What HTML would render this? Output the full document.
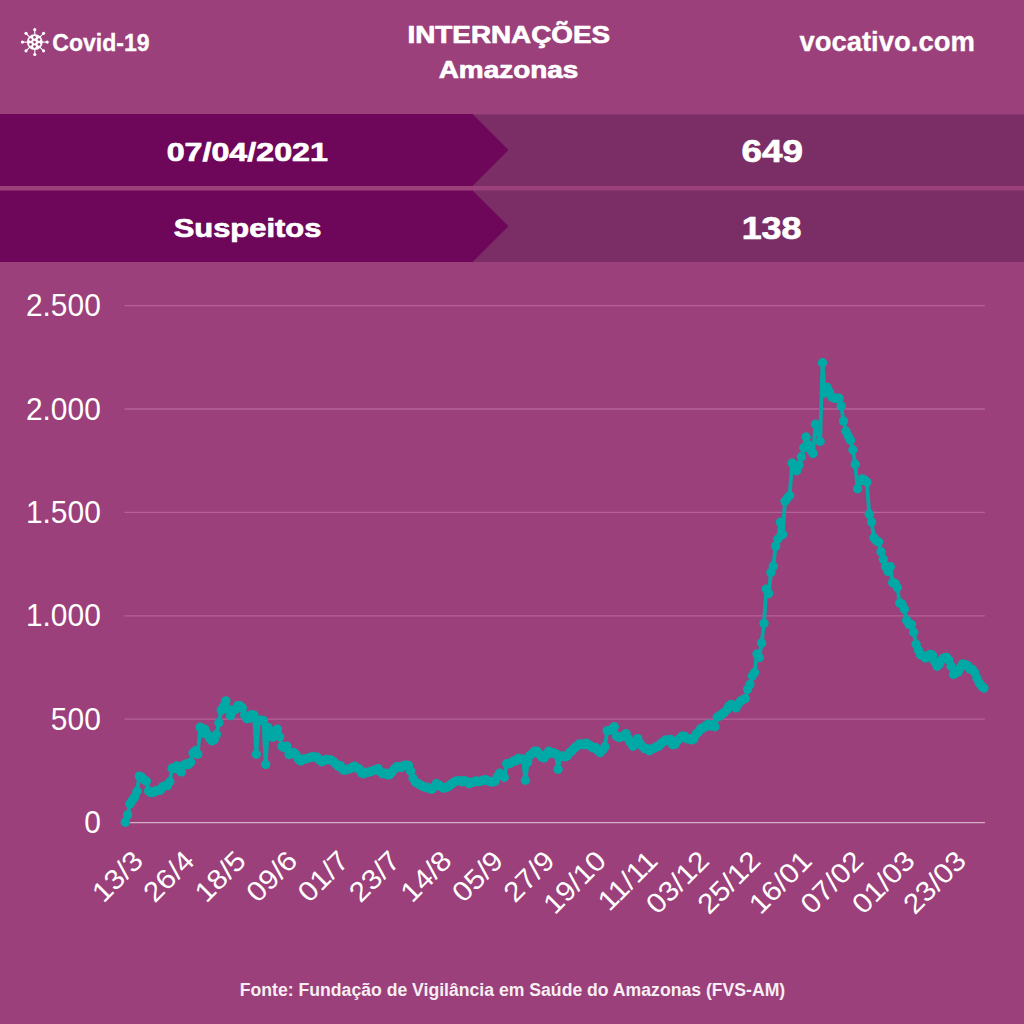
<!DOCTYPE html>
<html><head><meta charset="utf-8"><style>
html,body{margin:0;padding:0;background:#9b407a;}
svg{display:block;}
text{font-family:"Liberation Sans",sans-serif;fill:#fff;}
.yl{font-size:31.5px;}
.xl{font-size:27.8px;}
.b{font-weight:bold;}
.h{stroke:#fff;stroke-width:0.7px;stroke-linejoin:round;}
</style></head><body>
<svg width="1024" height="1024" viewBox="0 0 1024 1024">
<rect width="1024" height="1024" fill="#9b407a"/>
<circle cx="34.8" cy="42.1" r="7.9" fill="#fff"/><line x1="34.8" y1="42.1" x2="34.80" y2="29.70" stroke="#fff" stroke-width="1.1"/><circle cx="34.80" cy="29.70" r="1.6" fill="#fff"/><line x1="34.8" y1="42.1" x2="43.57" y2="33.33" stroke="#fff" stroke-width="1.1"/><circle cx="43.57" cy="33.33" r="1.6" fill="#fff"/><line x1="34.8" y1="42.1" x2="47.20" y2="42.10" stroke="#fff" stroke-width="1.1"/><circle cx="47.20" cy="42.10" r="1.6" fill="#fff"/><line x1="34.8" y1="42.1" x2="43.57" y2="50.87" stroke="#fff" stroke-width="1.1"/><circle cx="43.57" cy="50.87" r="1.6" fill="#fff"/><line x1="34.8" y1="42.1" x2="34.80" y2="54.50" stroke="#fff" stroke-width="1.1"/><circle cx="34.80" cy="54.50" r="1.6" fill="#fff"/><line x1="34.8" y1="42.1" x2="26.03" y2="50.87" stroke="#fff" stroke-width="1.1"/><circle cx="26.03" cy="50.87" r="1.6" fill="#fff"/><line x1="34.8" y1="42.1" x2="22.40" y2="42.10" stroke="#fff" stroke-width="1.1"/><circle cx="22.40" cy="42.10" r="1.6" fill="#fff"/><line x1="34.8" y1="42.1" x2="26.03" y2="33.33" stroke="#fff" stroke-width="1.1"/><circle cx="26.03" cy="33.33" r="1.6" fill="#fff"/><circle cx="34.50" cy="37.30" r="1.35" fill="#9b407a"/><circle cx="30.50" cy="39.60" r="1.35" fill="#9b407a"/><circle cx="39.00" cy="39.60" r="1.35" fill="#9b407a"/><circle cx="34.50" cy="42.10" r="1.35" fill="#9b407a"/><circle cx="30.50" cy="44.40" r="1.35" fill="#9b407a"/><circle cx="39.00" cy="44.40" r="1.35" fill="#9b407a"/><circle cx="34.50" cy="46.60" r="1.35" fill="#9b407a"/>
<text x="52.3" y="50.5" class="b" font-size="23.3" stroke="#fff" stroke-width="0.3" textLength="97.4" lengthAdjust="spacingAndGlyphs">Covid-19</text>
<text x="407.5" y="43.4" class="b h" font-size="23.6" textLength="202.6" lengthAdjust="spacingAndGlyphs">INTERNAÇÕES</text>
<text x="438.7" y="78.2" class="b h" font-size="24" textLength="139.6" lengthAdjust="spacingAndGlyphs">Amazonas</text>
<text x="799.4" y="51.2" class="b" font-size="28.5" stroke="#fff" stroke-width="0.3" textLength="175.5" lengthAdjust="spacingAndGlyphs">vocativo.com</text>
<rect x="0" y="114" width="473" height="72" fill="#6e075a"/>
<rect x="473" y="114.5" width="551" height="71.5" fill="#7b2e65"/>
<polygon points="472.5,114 508.5,150 472.5,186" fill="#6e075a"/>
<rect x="0" y="190.5" width="473" height="71.5" fill="#6e075a"/>
<rect x="473" y="190.5" width="551" height="71.5" fill="#7b2e65"/>
<polygon points="472.5,190.5 508.5,226.3 472.5,262" fill="#6e075a"/>
<text x="166.7" y="161.3" class="b h" font-size="26.5" textLength="161.2" lengthAdjust="spacingAndGlyphs">07/04/2021</text>
<text x="173.7" y="236.9" class="b h" font-size="26.5" textLength="147.7" lengthAdjust="spacingAndGlyphs">Suspeitos</text>
<text x="741.5" y="162.2" class="b h" font-size="31.5" textLength="61.5" lengthAdjust="spacingAndGlyphs">649</text>
<text x="741.7" y="239.3" class="b h" font-size="31.5" textLength="59.8" lengthAdjust="spacingAndGlyphs">138</text>
<line x1="124.5" y1="719.2" x2="984.9" y2="719.2" stroke="#f0aadc" stroke-opacity="0.32" stroke-width="1.3"/><line x1="124.5" y1="615.8" x2="984.9" y2="615.8" stroke="#f0aadc" stroke-opacity="0.32" stroke-width="1.3"/><line x1="124.5" y1="512.4" x2="984.9" y2="512.4" stroke="#f0aadc" stroke-opacity="0.32" stroke-width="1.3"/><line x1="124.5" y1="409.0" x2="984.9" y2="409.0" stroke="#f0aadc" stroke-opacity="0.32" stroke-width="1.3"/><line x1="124.5" y1="305.6" x2="984.9" y2="305.6" stroke="#f0aadc" stroke-opacity="0.32" stroke-width="1.3"/><line x1="124.5" y1="822.6" x2="984.9" y2="822.6" stroke="#ffffff" stroke-opacity="0.58" stroke-width="1.4"/>
<text transform="translate(100.8,833.2) scale(0.95,1)" text-anchor="end" class="yl">0</text><text transform="translate(100.8,729.8) scale(0.95,1)" text-anchor="end" class="yl">500</text><text transform="translate(100.8,626.4) scale(0.95,1)" text-anchor="end" class="yl">1.000</text><text transform="translate(100.8,523.0) scale(0.95,1)" text-anchor="end" class="yl">1.500</text><text transform="translate(100.8,419.6) scale(0.95,1)" text-anchor="end" class="yl">2.000</text><text transform="translate(100.8,316.2) scale(0.95,1)" text-anchor="end" class="yl">2.500</text>
<text transform="translate(144.7,862.4) rotate(-45) scale(1.08,1)" text-anchor="end" class="xl">13/3</text><text transform="translate(196.1,862.4) rotate(-45) scale(1.08,1)" text-anchor="end" class="xl">26/4</text><text transform="translate(247.6,862.4) rotate(-45) scale(1.08,1)" text-anchor="end" class="xl">18/5</text><text transform="translate(299.1,862.4) rotate(-45) scale(1.08,1)" text-anchor="end" class="xl">09/6</text><text transform="translate(350.5,862.4) rotate(-45) scale(1.08,1)" text-anchor="end" class="xl">01/7</text><text transform="translate(401.9,862.4) rotate(-45) scale(1.08,1)" text-anchor="end" class="xl">23/7</text><text transform="translate(453.4,862.4) rotate(-45) scale(1.08,1)" text-anchor="end" class="xl">14/8</text><text transform="translate(504.9,862.4) rotate(-45) scale(1.08,1)" text-anchor="end" class="xl">05/9</text><text transform="translate(556.3,862.4) rotate(-45) scale(1.08,1)" text-anchor="end" class="xl">27/9</text><text transform="translate(607.8,862.4) rotate(-45) scale(1.08,1)" text-anchor="end" class="xl">19/10</text><text transform="translate(659.2,862.4) rotate(-45) scale(1.08,1)" text-anchor="end" class="xl">11/11</text><text transform="translate(710.7,862.4) rotate(-45) scale(1.08,1)" text-anchor="end" class="xl">03/12</text><text transform="translate(762.1,862.4) rotate(-45) scale(1.08,1)" text-anchor="end" class="xl">25/12</text><text transform="translate(813.5,862.4) rotate(-45) scale(1.08,1)" text-anchor="end" class="xl">16/01</text><text transform="translate(865.0,862.4) rotate(-45) scale(1.08,1)" text-anchor="end" class="xl">07/02</text><text transform="translate(916.5,862.4) rotate(-45) scale(1.08,1)" text-anchor="end" class="xl">01/03</text><text transform="translate(967.9,862.4) rotate(-45) scale(1.08,1)" text-anchor="end" class="xl">23/03</text>
<g fill="#00a9a6"><polyline points="125.3,822.3 127.6,814.9 130.0,803.9 132.3,800.3 134.7,797.0 137.0,791.3 139.3,776.1 141.7,777.4 144.0,779.8 146.4,781.2 148.7,790.9 151.0,792.6 153.4,792.2 155.7,790.7 158.1,790.3 160.4,790.2 162.7,786.6 165.1,785.8 167.4,785.7 169.8,781.8 172.1,768.3 174.4,768.4 176.8,765.9 179.1,769.8 181.4,772.0 183.8,765.3 186.1,763.9 188.5,764.5 190.8,762.3 193.1,752.9 195.5,750.7 197.8,754.2 200.2,727.2 202.5,733.1 204.8,729.2 207.2,734.3 209.5,738.0 211.9,740.8 214.2,739.8 216.5,734.5 218.9,722.7 221.2,710.1 223.6,706.2 225.9,700.9 228.2,709.1 230.6,715.8 232.9,711.0 235.3,709.4 237.6,705.7 239.9,705.6 242.3,707.9 244.6,715.1 247.0,718.7 249.3,718.4 251.6,714.7 254.0,715.1 256.3,754.3 258.7,720.5 261.0,720.1 263.3,720.5 265.7,764.5 268.0,727.4 270.3,731.1 272.7,737.1 275.0,734.2 277.4,729.3 279.7,736.8 282.0,746.5 284.4,747.7 286.7,746.1 289.1,754.6 291.4,752.8 293.7,752.6 296.1,754.9 298.4,759.1 300.8,760.9 303.1,759.2 305.4,759.0 307.8,758.1 310.1,757.6 312.5,756.8 314.8,757.1 317.1,757.3 319.5,759.9 321.8,761.7 324.2,760.4 326.5,759.5 328.8,759.6 331.2,760.2 333.5,761.6 335.9,763.9 338.2,766.2 340.5,765.7 342.9,769.7 345.2,770.1 347.6,769.3 349.9,768.7 352.2,767.2 354.6,766.3 356.9,768.1 359.3,769.0 361.6,772.9 363.9,773.8 366.3,772.3 368.6,772.2 370.9,771.5 373.3,770.8 375.6,769.6 378.0,768.6 380.3,771.6 382.6,773.6 385.0,773.1 387.3,774.7 389.7,774.7 392.0,771.9 394.3,769.0 396.7,766.7 399.0,766.7 401.4,767.5 403.7,765.5 406.0,765.1 408.4,765.4 410.7,771.3 413.1,778.4 415.4,782.2 417.7,783.2 420.1,784.9 422.4,786.1 424.8,787.3 427.1,787.2 429.4,788.7 431.8,789.1 434.1,787.3 436.5,783.6 438.8,785.1 441.1,786.8 443.5,788.2 445.8,787.4 448.2,786.8 450.5,784.9 452.8,782.9 455.2,781.4 457.5,780.7 459.8,780.8 462.2,781.8 464.5,780.7 466.9,781.8 469.2,783.8 471.5,782.5 473.9,782.0 476.2,781.0 478.6,781.6 480.9,781.3 483.2,780.1 485.6,779.8 487.9,780.7 490.3,781.8 492.6,782.0 494.9,781.5 497.3,776.7 499.6,773.2 502.0,775.1 504.3,777.2 506.6,763.7 509.0,763.7 511.3,762.7 513.7,760.9 516.0,760.7 518.3,758.5 520.7,759.1 523.0,759.3 525.4,780.2 527.7,762.1 530.0,755.4 532.4,753.2 534.7,751.1 537.1,751.2 539.4,754.3 541.7,757.1 544.1,758.0 546.4,754.6 548.8,751.2 551.1,753.3 553.4,752.8 555.8,753.9 558.1,769.3 560.4,756.2 562.8,755.9 565.1,756.9 567.5,755.7 569.8,752.4 572.1,750.7 574.5,748.0 576.8,746.2 579.2,744.0 581.5,744.2 583.8,744.9 586.2,743.1 588.5,744.8 590.9,746.1 593.2,747.9 595.5,747.5 597.9,750.7 600.2,752.6 602.6,750.1 604.9,746.8 607.2,730.8 609.6,730.4 611.9,729.2 614.3,726.8 616.6,736.3 618.9,737.5 621.3,736.7 623.6,736.1 626.0,733.6 628.3,738.8 630.6,742.8 633.0,746.2 635.3,743.2 637.7,738.6 640.0,743.6 642.3,746.2 644.7,748.6 647.0,748.7 649.4,750.8 651.7,749.0 654.0,748.3 656.4,746.8 658.7,746.2 661.0,743.4 663.4,741.7 665.7,739.9 668.1,740.6 670.4,739.4 672.7,744.7 675.1,744.1 677.4,740.7 679.8,738.5 682.1,736.3 684.4,736.3 686.8,738.8 689.1,738.6 691.5,739.9 693.8,738.9 696.1,734.1 698.5,732.0 700.8,728.5 703.2,728.1 705.5,726.1 707.8,724.3 710.2,726.0 712.5,724.6 714.9,726.7 717.2,717.3 719.5,716.0 721.9,714.0 724.2,712.6 726.6,710.0 728.9,706.0 731.2,704.4 733.6,706.0 735.9,707.9 738.3,704.0 740.6,701.0 742.9,699.7 745.3,698.5 747.6,689.2 749.9,684.5 752.3,676.0 754.6,672.5 757.0,654.0 759.3,657.5 761.6,643.0 764.0,623.4 766.3,589.1 768.7,593.5 771.0,572.4 773.3,566.2 775.7,546.0 778.0,539.0 780.4,522.2 782.7,534.5 785.0,501.1 787.4,498.0 789.7,495.5 792.1,463.0 794.4,467.0 796.7,470.6 799.1,465.0 801.4,456.7 803.8,447.8 806.1,437.0 808.4,445.0 810.8,450.0 813.1,453.5 815.5,424.3 817.8,432.0 820.1,441.4 822.5,362.7 824.8,393.0 827.2,387.5 829.5,392.0 831.8,397.0 834.2,398.3 836.5,398.3 838.9,398.3 841.2,405.9 843.5,421.1 845.9,431.3 848.2,436.0 850.5,440.2 852.9,449.7 855.2,464.3 857.6,488.8 859.9,481.0 862.2,479.0 864.6,480.0 866.9,482.0 869.3,514.2 871.6,522.0 873.9,537.7 876.3,540.7 878.6,541.9 881.0,551.8 883.3,559.2 885.6,566.4 888.0,571.4 890.3,566.8 892.7,582.6 895.0,583.4 897.3,587.5 899.7,603.0 902.0,604.1 904.4,609.1 906.7,620.3 909.0,624.5 911.4,624.5 913.7,632.3 916.1,644.2 918.4,650.0 920.7,655.0 923.1,655.7 925.4,658.0 927.8,657.1 930.1,654.4 932.4,655.2 934.8,661.8 937.1,666.3 939.4,663.9 941.8,659.7 944.1,657.9 946.5,657.4 948.8,660.0 951.1,666.3 953.5,674.4 955.8,671.7 958.2,672.0 960.5,667.5 962.8,663.9 965.2,664.7 967.5,665.6 969.9,668.9 972.2,669.3 974.5,672.3 976.9,678.0 979.2,683.0 981.6,686.0 983.9,688.0" fill="none" stroke="#00a9a6" stroke-width="3.8" stroke-linejoin="round"/><circle cx="125.3" cy="822.3" r="4.7"/><circle cx="127.6" cy="814.9" r="4.7"/><circle cx="130.0" cy="803.9" r="4.7"/><circle cx="132.3" cy="800.3" r="4.7"/><circle cx="134.7" cy="797.0" r="4.7"/><circle cx="137.0" cy="791.3" r="4.7"/><circle cx="139.3" cy="776.1" r="4.7"/><circle cx="141.7" cy="777.4" r="4.7"/><circle cx="144.0" cy="779.8" r="4.7"/><circle cx="146.4" cy="781.2" r="4.7"/><circle cx="148.7" cy="790.9" r="4.7"/><circle cx="151.0" cy="792.6" r="4.7"/><circle cx="153.4" cy="792.2" r="4.7"/><circle cx="155.7" cy="790.7" r="4.7"/><circle cx="158.1" cy="790.3" r="4.7"/><circle cx="160.4" cy="790.2" r="4.7"/><circle cx="162.7" cy="786.6" r="4.7"/><circle cx="165.1" cy="785.8" r="4.7"/><circle cx="167.4" cy="785.7" r="4.7"/><circle cx="169.8" cy="781.8" r="4.7"/><circle cx="172.1" cy="768.3" r="4.7"/><circle cx="174.4" cy="768.4" r="4.7"/><circle cx="176.8" cy="765.9" r="4.7"/><circle cx="179.1" cy="769.8" r="4.7"/><circle cx="181.4" cy="772.0" r="4.7"/><circle cx="183.8" cy="765.3" r="4.7"/><circle cx="186.1" cy="763.9" r="4.7"/><circle cx="188.5" cy="764.5" r="4.7"/><circle cx="190.8" cy="762.3" r="4.7"/><circle cx="193.1" cy="752.9" r="4.7"/><circle cx="195.5" cy="750.7" r="4.7"/><circle cx="197.8" cy="754.2" r="4.7"/><circle cx="200.2" cy="727.2" r="4.7"/><circle cx="202.5" cy="733.1" r="4.7"/><circle cx="204.8" cy="729.2" r="4.7"/><circle cx="207.2" cy="734.3" r="4.7"/><circle cx="209.5" cy="738.0" r="4.7"/><circle cx="211.9" cy="740.8" r="4.7"/><circle cx="214.2" cy="739.8" r="4.7"/><circle cx="216.5" cy="734.5" r="4.7"/><circle cx="218.9" cy="722.7" r="4.7"/><circle cx="221.2" cy="710.1" r="4.7"/><circle cx="223.6" cy="706.2" r="4.7"/><circle cx="225.9" cy="700.9" r="4.7"/><circle cx="228.2" cy="709.1" r="4.7"/><circle cx="230.6" cy="715.8" r="4.7"/><circle cx="232.9" cy="711.0" r="4.7"/><circle cx="235.3" cy="709.4" r="4.7"/><circle cx="237.6" cy="705.7" r="4.7"/><circle cx="239.9" cy="705.6" r="4.7"/><circle cx="242.3" cy="707.9" r="4.7"/><circle cx="244.6" cy="715.1" r="4.7"/><circle cx="247.0" cy="718.7" r="4.7"/><circle cx="249.3" cy="718.4" r="4.7"/><circle cx="251.6" cy="714.7" r="4.7"/><circle cx="254.0" cy="715.1" r="4.7"/><circle cx="256.3" cy="754.3" r="4.7"/><circle cx="258.7" cy="720.5" r="4.7"/><circle cx="261.0" cy="720.1" r="4.7"/><circle cx="263.3" cy="720.5" r="4.7"/><circle cx="265.7" cy="764.5" r="4.7"/><circle cx="268.0" cy="727.4" r="4.7"/><circle cx="270.3" cy="731.1" r="4.7"/><circle cx="272.7" cy="737.1" r="4.7"/><circle cx="275.0" cy="734.2" r="4.7"/><circle cx="277.4" cy="729.3" r="4.7"/><circle cx="279.7" cy="736.8" r="4.7"/><circle cx="282.0" cy="746.5" r="4.7"/><circle cx="284.4" cy="747.7" r="4.7"/><circle cx="286.7" cy="746.1" r="4.7"/><circle cx="289.1" cy="754.6" r="4.7"/><circle cx="291.4" cy="752.8" r="4.7"/><circle cx="293.7" cy="752.6" r="4.7"/><circle cx="296.1" cy="754.9" r="4.7"/><circle cx="298.4" cy="759.1" r="4.7"/><circle cx="300.8" cy="760.9" r="4.7"/><circle cx="303.1" cy="759.2" r="4.7"/><circle cx="305.4" cy="759.0" r="4.7"/><circle cx="307.8" cy="758.1" r="4.7"/><circle cx="310.1" cy="757.6" r="4.7"/><circle cx="312.5" cy="756.8" r="4.7"/><circle cx="314.8" cy="757.1" r="4.7"/><circle cx="317.1" cy="757.3" r="4.7"/><circle cx="319.5" cy="759.9" r="4.7"/><circle cx="321.8" cy="761.7" r="4.7"/><circle cx="324.2" cy="760.4" r="4.7"/><circle cx="326.5" cy="759.5" r="4.7"/><circle cx="328.8" cy="759.6" r="4.7"/><circle cx="331.2" cy="760.2" r="4.7"/><circle cx="333.5" cy="761.6" r="4.7"/><circle cx="335.9" cy="763.9" r="4.7"/><circle cx="338.2" cy="766.2" r="4.7"/><circle cx="340.5" cy="765.7" r="4.7"/><circle cx="342.9" cy="769.7" r="4.7"/><circle cx="345.2" cy="770.1" r="4.7"/><circle cx="347.6" cy="769.3" r="4.7"/><circle cx="349.9" cy="768.7" r="4.7"/><circle cx="352.2" cy="767.2" r="4.7"/><circle cx="354.6" cy="766.3" r="4.7"/><circle cx="356.9" cy="768.1" r="4.7"/><circle cx="359.3" cy="769.0" r="4.7"/><circle cx="361.6" cy="772.9" r="4.7"/><circle cx="363.9" cy="773.8" r="4.7"/><circle cx="366.3" cy="772.3" r="4.7"/><circle cx="368.6" cy="772.2" r="4.7"/><circle cx="370.9" cy="771.5" r="4.7"/><circle cx="373.3" cy="770.8" r="4.7"/><circle cx="375.6" cy="769.6" r="4.7"/><circle cx="378.0" cy="768.6" r="4.7"/><circle cx="380.3" cy="771.6" r="4.7"/><circle cx="382.6" cy="773.6" r="4.7"/><circle cx="385.0" cy="773.1" r="4.7"/><circle cx="387.3" cy="774.7" r="4.7"/><circle cx="389.7" cy="774.7" r="4.7"/><circle cx="392.0" cy="771.9" r="4.7"/><circle cx="394.3" cy="769.0" r="4.7"/><circle cx="396.7" cy="766.7" r="4.7"/><circle cx="399.0" cy="766.7" r="4.7"/><circle cx="401.4" cy="767.5" r="4.7"/><circle cx="403.7" cy="765.5" r="4.7"/><circle cx="406.0" cy="765.1" r="4.7"/><circle cx="408.4" cy="765.4" r="4.7"/><circle cx="410.7" cy="771.3" r="4.7"/><circle cx="413.1" cy="778.4" r="4.7"/><circle cx="415.4" cy="782.2" r="4.7"/><circle cx="417.7" cy="783.2" r="4.7"/><circle cx="420.1" cy="784.9" r="4.7"/><circle cx="422.4" cy="786.1" r="4.7"/><circle cx="424.8" cy="787.3" r="4.7"/><circle cx="427.1" cy="787.2" r="4.7"/><circle cx="429.4" cy="788.7" r="4.7"/><circle cx="431.8" cy="789.1" r="4.7"/><circle cx="434.1" cy="787.3" r="4.7"/><circle cx="436.5" cy="783.6" r="4.7"/><circle cx="438.8" cy="785.1" r="4.7"/><circle cx="441.1" cy="786.8" r="4.7"/><circle cx="443.5" cy="788.2" r="4.7"/><circle cx="445.8" cy="787.4" r="4.7"/><circle cx="448.2" cy="786.8" r="4.7"/><circle cx="450.5" cy="784.9" r="4.7"/><circle cx="452.8" cy="782.9" r="4.7"/><circle cx="455.2" cy="781.4" r="4.7"/><circle cx="457.5" cy="780.7" r="4.7"/><circle cx="459.8" cy="780.8" r="4.7"/><circle cx="462.2" cy="781.8" r="4.7"/><circle cx="464.5" cy="780.7" r="4.7"/><circle cx="466.9" cy="781.8" r="4.7"/><circle cx="469.2" cy="783.8" r="4.7"/><circle cx="471.5" cy="782.5" r="4.7"/><circle cx="473.9" cy="782.0" r="4.7"/><circle cx="476.2" cy="781.0" r="4.7"/><circle cx="478.6" cy="781.6" r="4.7"/><circle cx="480.9" cy="781.3" r="4.7"/><circle cx="483.2" cy="780.1" r="4.7"/><circle cx="485.6" cy="779.8" r="4.7"/><circle cx="487.9" cy="780.7" r="4.7"/><circle cx="490.3" cy="781.8" r="4.7"/><circle cx="492.6" cy="782.0" r="4.7"/><circle cx="494.9" cy="781.5" r="4.7"/><circle cx="497.3" cy="776.7" r="4.7"/><circle cx="499.6" cy="773.2" r="4.7"/><circle cx="502.0" cy="775.1" r="4.7"/><circle cx="504.3" cy="777.2" r="4.7"/><circle cx="506.6" cy="763.7" r="4.7"/><circle cx="509.0" cy="763.7" r="4.7"/><circle cx="511.3" cy="762.7" r="4.7"/><circle cx="513.7" cy="760.9" r="4.7"/><circle cx="516.0" cy="760.7" r="4.7"/><circle cx="518.3" cy="758.5" r="4.7"/><circle cx="520.7" cy="759.1" r="4.7"/><circle cx="523.0" cy="759.3" r="4.7"/><circle cx="525.4" cy="780.2" r="4.7"/><circle cx="527.7" cy="762.1" r="4.7"/><circle cx="530.0" cy="755.4" r="4.7"/><circle cx="532.4" cy="753.2" r="4.7"/><circle cx="534.7" cy="751.1" r="4.7"/><circle cx="537.1" cy="751.2" r="4.7"/><circle cx="539.4" cy="754.3" r="4.7"/><circle cx="541.7" cy="757.1" r="4.7"/><circle cx="544.1" cy="758.0" r="4.7"/><circle cx="546.4" cy="754.6" r="4.7"/><circle cx="548.8" cy="751.2" r="4.7"/><circle cx="551.1" cy="753.3" r="4.7"/><circle cx="553.4" cy="752.8" r="4.7"/><circle cx="555.8" cy="753.9" r="4.7"/><circle cx="558.1" cy="769.3" r="4.7"/><circle cx="560.4" cy="756.2" r="4.7"/><circle cx="562.8" cy="755.9" r="4.7"/><circle cx="565.1" cy="756.9" r="4.7"/><circle cx="567.5" cy="755.7" r="4.7"/><circle cx="569.8" cy="752.4" r="4.7"/><circle cx="572.1" cy="750.7" r="4.7"/><circle cx="574.5" cy="748.0" r="4.7"/><circle cx="576.8" cy="746.2" r="4.7"/><circle cx="579.2" cy="744.0" r="4.7"/><circle cx="581.5" cy="744.2" r="4.7"/><circle cx="583.8" cy="744.9" r="4.7"/><circle cx="586.2" cy="743.1" r="4.7"/><circle cx="588.5" cy="744.8" r="4.7"/><circle cx="590.9" cy="746.1" r="4.7"/><circle cx="593.2" cy="747.9" r="4.7"/><circle cx="595.5" cy="747.5" r="4.7"/><circle cx="597.9" cy="750.7" r="4.7"/><circle cx="600.2" cy="752.6" r="4.7"/><circle cx="602.6" cy="750.1" r="4.7"/><circle cx="604.9" cy="746.8" r="4.7"/><circle cx="607.2" cy="730.8" r="4.7"/><circle cx="609.6" cy="730.4" r="4.7"/><circle cx="611.9" cy="729.2" r="4.7"/><circle cx="614.3" cy="726.8" r="4.7"/><circle cx="616.6" cy="736.3" r="4.7"/><circle cx="618.9" cy="737.5" r="4.7"/><circle cx="621.3" cy="736.7" r="4.7"/><circle cx="623.6" cy="736.1" r="4.7"/><circle cx="626.0" cy="733.6" r="4.7"/><circle cx="628.3" cy="738.8" r="4.7"/><circle cx="630.6" cy="742.8" r="4.7"/><circle cx="633.0" cy="746.2" r="4.7"/><circle cx="635.3" cy="743.2" r="4.7"/><circle cx="637.7" cy="738.6" r="4.7"/><circle cx="640.0" cy="743.6" r="4.7"/><circle cx="642.3" cy="746.2" r="4.7"/><circle cx="644.7" cy="748.6" r="4.7"/><circle cx="647.0" cy="748.7" r="4.7"/><circle cx="649.4" cy="750.8" r="4.7"/><circle cx="651.7" cy="749.0" r="4.7"/><circle cx="654.0" cy="748.3" r="4.7"/><circle cx="656.4" cy="746.8" r="4.7"/><circle cx="658.7" cy="746.2" r="4.7"/><circle cx="661.0" cy="743.4" r="4.7"/><circle cx="663.4" cy="741.7" r="4.7"/><circle cx="665.7" cy="739.9" r="4.7"/><circle cx="668.1" cy="740.6" r="4.7"/><circle cx="670.4" cy="739.4" r="4.7"/><circle cx="672.7" cy="744.7" r="4.7"/><circle cx="675.1" cy="744.1" r="4.7"/><circle cx="677.4" cy="740.7" r="4.7"/><circle cx="679.8" cy="738.5" r="4.7"/><circle cx="682.1" cy="736.3" r="4.7"/><circle cx="684.4" cy="736.3" r="4.7"/><circle cx="686.8" cy="738.8" r="4.7"/><circle cx="689.1" cy="738.6" r="4.7"/><circle cx="691.5" cy="739.9" r="4.7"/><circle cx="693.8" cy="738.9" r="4.7"/><circle cx="696.1" cy="734.1" r="4.7"/><circle cx="698.5" cy="732.0" r="4.7"/><circle cx="700.8" cy="728.5" r="4.7"/><circle cx="703.2" cy="728.1" r="4.7"/><circle cx="705.5" cy="726.1" r="4.7"/><circle cx="707.8" cy="724.3" r="4.7"/><circle cx="710.2" cy="726.0" r="4.7"/><circle cx="712.5" cy="724.6" r="4.7"/><circle cx="714.9" cy="726.7" r="4.7"/><circle cx="717.2" cy="717.3" r="4.7"/><circle cx="719.5" cy="716.0" r="4.7"/><circle cx="721.9" cy="714.0" r="4.7"/><circle cx="724.2" cy="712.6" r="4.7"/><circle cx="726.6" cy="710.0" r="4.7"/><circle cx="728.9" cy="706.0" r="4.7"/><circle cx="731.2" cy="704.4" r="4.7"/><circle cx="733.6" cy="706.0" r="4.7"/><circle cx="735.9" cy="707.9" r="4.7"/><circle cx="738.3" cy="704.0" r="4.7"/><circle cx="740.6" cy="701.0" r="4.7"/><circle cx="742.9" cy="699.7" r="4.7"/><circle cx="745.3" cy="698.5" r="4.7"/><circle cx="747.6" cy="689.2" r="4.7"/><circle cx="749.9" cy="684.5" r="4.7"/><circle cx="752.3" cy="676.0" r="4.7"/><circle cx="754.6" cy="672.5" r="4.7"/><circle cx="757.0" cy="654.0" r="4.7"/><circle cx="759.3" cy="657.5" r="4.7"/><circle cx="761.6" cy="643.0" r="4.7"/><circle cx="764.0" cy="623.4" r="4.7"/><circle cx="766.3" cy="589.1" r="4.7"/><circle cx="768.7" cy="593.5" r="4.7"/><circle cx="771.0" cy="572.4" r="4.7"/><circle cx="773.3" cy="566.2" r="4.7"/><circle cx="775.7" cy="546.0" r="4.7"/><circle cx="778.0" cy="539.0" r="4.7"/><circle cx="780.4" cy="522.2" r="4.7"/><circle cx="782.7" cy="534.5" r="4.7"/><circle cx="785.0" cy="501.1" r="4.7"/><circle cx="787.4" cy="498.0" r="4.7"/><circle cx="789.7" cy="495.5" r="4.7"/><circle cx="792.1" cy="463.0" r="4.7"/><circle cx="794.4" cy="467.0" r="4.7"/><circle cx="796.7" cy="470.6" r="4.7"/><circle cx="799.1" cy="465.0" r="4.7"/><circle cx="801.4" cy="456.7" r="4.7"/><circle cx="803.8" cy="447.8" r="4.7"/><circle cx="806.1" cy="437.0" r="4.7"/><circle cx="808.4" cy="445.0" r="4.7"/><circle cx="810.8" cy="450.0" r="4.7"/><circle cx="813.1" cy="453.5" r="4.7"/><circle cx="815.5" cy="424.3" r="4.7"/><circle cx="817.8" cy="432.0" r="4.7"/><circle cx="820.1" cy="441.4" r="4.7"/><circle cx="822.5" cy="362.7" r="4.7"/><circle cx="824.8" cy="393.0" r="4.7"/><circle cx="827.2" cy="387.5" r="4.7"/><circle cx="829.5" cy="392.0" r="4.7"/><circle cx="831.8" cy="397.0" r="4.7"/><circle cx="834.2" cy="398.3" r="4.7"/><circle cx="836.5" cy="398.3" r="4.7"/><circle cx="838.9" cy="398.3" r="4.7"/><circle cx="841.2" cy="405.9" r="4.7"/><circle cx="843.5" cy="421.1" r="4.7"/><circle cx="845.9" cy="431.3" r="4.7"/><circle cx="848.2" cy="436.0" r="4.7"/><circle cx="850.5" cy="440.2" r="4.7"/><circle cx="852.9" cy="449.7" r="4.7"/><circle cx="855.2" cy="464.3" r="4.7"/><circle cx="857.6" cy="488.8" r="4.7"/><circle cx="859.9" cy="481.0" r="4.7"/><circle cx="862.2" cy="479.0" r="4.7"/><circle cx="864.6" cy="480.0" r="4.7"/><circle cx="866.9" cy="482.0" r="4.7"/><circle cx="869.3" cy="514.2" r="4.7"/><circle cx="871.6" cy="522.0" r="4.7"/><circle cx="873.9" cy="537.7" r="4.7"/><circle cx="876.3" cy="540.7" r="4.7"/><circle cx="878.6" cy="541.9" r="4.7"/><circle cx="881.0" cy="551.8" r="4.7"/><circle cx="883.3" cy="559.2" r="4.7"/><circle cx="885.6" cy="566.4" r="4.7"/><circle cx="888.0" cy="571.4" r="4.7"/><circle cx="890.3" cy="566.8" r="4.7"/><circle cx="892.7" cy="582.6" r="4.7"/><circle cx="895.0" cy="583.4" r="4.7"/><circle cx="897.3" cy="587.5" r="4.7"/><circle cx="899.7" cy="603.0" r="4.7"/><circle cx="902.0" cy="604.1" r="4.7"/><circle cx="904.4" cy="609.1" r="4.7"/><circle cx="906.7" cy="620.3" r="4.7"/><circle cx="909.0" cy="624.5" r="4.7"/><circle cx="911.4" cy="624.5" r="4.7"/><circle cx="913.7" cy="632.3" r="4.7"/><circle cx="916.1" cy="644.2" r="4.7"/><circle cx="918.4" cy="650.0" r="4.7"/><circle cx="920.7" cy="655.0" r="4.7"/><circle cx="923.1" cy="655.7" r="4.7"/><circle cx="925.4" cy="658.0" r="4.7"/><circle cx="927.8" cy="657.1" r="4.7"/><circle cx="930.1" cy="654.4" r="4.7"/><circle cx="932.4" cy="655.2" r="4.7"/><circle cx="934.8" cy="661.8" r="4.7"/><circle cx="937.1" cy="666.3" r="4.7"/><circle cx="939.4" cy="663.9" r="4.7"/><circle cx="941.8" cy="659.7" r="4.7"/><circle cx="944.1" cy="657.9" r="4.7"/><circle cx="946.5" cy="657.4" r="4.7"/><circle cx="948.8" cy="660.0" r="4.7"/><circle cx="951.1" cy="666.3" r="4.7"/><circle cx="953.5" cy="674.4" r="4.7"/><circle cx="955.8" cy="671.7" r="4.7"/><circle cx="958.2" cy="672.0" r="4.7"/><circle cx="960.5" cy="667.5" r="4.7"/><circle cx="962.8" cy="663.9" r="4.7"/><circle cx="965.2" cy="664.7" r="4.7"/><circle cx="967.5" cy="665.6" r="4.7"/><circle cx="969.9" cy="668.9" r="4.7"/><circle cx="972.2" cy="669.3" r="4.7"/><circle cx="974.5" cy="672.3" r="4.7"/><circle cx="976.9" cy="678.0" r="4.7"/><circle cx="979.2" cy="683.0" r="4.7"/><circle cx="981.6" cy="686.0" r="4.7"/><circle cx="983.9" cy="688.0" r="4.7"/></g>
<text x="239.8" y="995.5" class="b" font-size="17.6" style="fill:#f7eef4" textLength="545.4" lengthAdjust="spacingAndGlyphs">Fonte: Fundação de Vigilância em Saúde do Amazonas (FVS-AM)</text>
</svg>
</body></html>
